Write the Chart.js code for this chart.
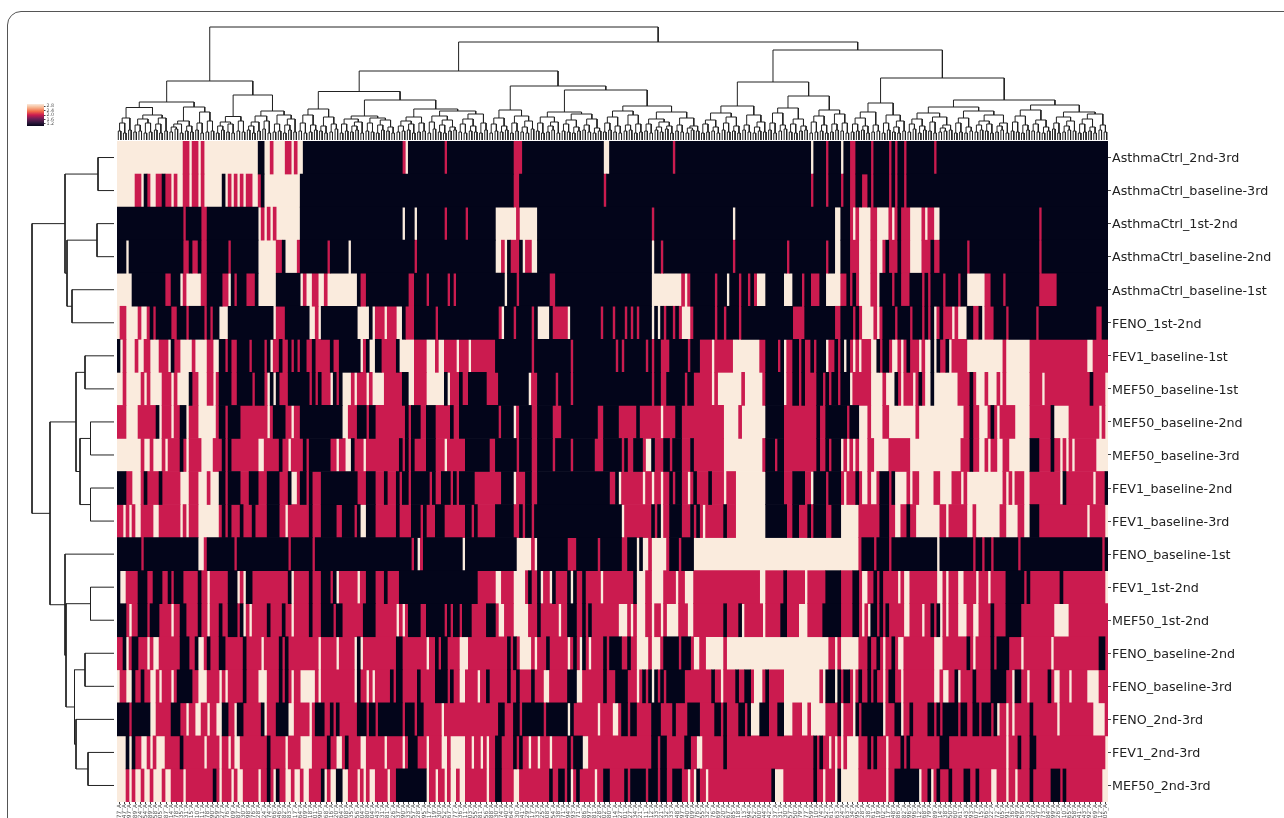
<!DOCTYPE html>
<html>
<head>
<meta charset="utf-8">
<title>Clustermap</title>
<script src="https://cdn.jsdelivr.net/npm/chart.js@4"></script>
<style>
    html, body { margin: 0; width: 1284px; height: 818px; overflow: hidden; background: #fff; }
    .card { position: absolute; left: 7px; top: 11px; width: 1500px; height: 1000px; border: 1px solid #555; border-radius: 14px; box-sizing: border-box; }
    canvas { position: absolute; }
    #heatmap { left: 0; top: 0; }
    #topDendrogram { left: 117px; top: 20px; }
    #leftDendrogram { left: 20px; top: 141px; }
    #colorbar { left: 27px; top: 100px; }
</style>
</head>
<body>
<div class="card"></div>
<canvas id="heatmap" width="1284" height="818"></canvas>
<canvas id="topDendrogram" width="991" height="120"></canvas>
<canvas id="leftDendrogram" width="94" height="661"></canvas>
<canvas id="colorbar" width="40" height="30"></canvas>
<script>
const rowLabels = [
    'AsthmaCtrl_2nd-3rd', 'AsthmaCtrl_baseline-3rd', 'AsthmaCtrl_1st-2nd', 'AsthmaCtrl_baseline-2nd',
    'AsthmaCtrl_baseline-1st', 'FENO_1st-2nd', 'FEV1_baseline-1st', 'MEF50_baseline-1st',
    'MEF50_baseline-2nd', 'MEF50_baseline-3rd', 'FEV1_baseline-2nd', 'FEV1_baseline-3rd',
    'FENO_baseline-1st', 'FEV1_1st-2nd', 'MEF50_1st-2nd', 'FENO_baseline-2nd',
    'FENO_baseline-3rd', 'FENO_2nd-3rd', 'FEV1_2nd-3rd', 'MEF50_2nd-3rd'
];

const columnCount = 330;

// one string per row: level letter + column where that level starts (K=1, R=2, C=3)
const rowRuns = [
    'C0 R22 C24 R25 C27 R28 C29 K47 C49 R51 C52 R56 C58 R59 C60 K62 R95 C96 K97 R109 K110 R132 K135 C162 K164 R185 K186 C231 K232 R236 K237 C241 K242 R244 K246 R251 K252 R257 K258 R259 K260 R262 K263 R272 K273',
    'C0 R6 C8 K9 R10 C11 R13 K15 R16 C18 R19 C20 R22 C24 R25 C27 R28 C29 K35 C36 R37 C38 R39 C40 R41 C42 R43 C45 R47 K48 C49 K61 R132 K134 R162 K163 R231 K232 R236 K237 R241 K242 R244 K246 R248 K250 R251 K252 R257 K258 R259 K260 R262 K263',
    'K0 R22 K23 R28 K30 C47 R48 C49 R50 C51 R52 C53 K61 C95 K96 C99 K100 R109 K110 R116 K117 C126 R133 C134 K140 R178 K179 C205 K206 C239 K241 R244 C245 R246 C247 R251 C253 R257 C258 R259 K260 R261 C264 R268 C269 R270 C272 K274 R307 K308',
    'K0 C3 K4 R22 K24 R25 K27 R28 K30 R37 K38 C47 R53 K55 C56 R60 K61 R70 K71 C77 K78 R99 K100 C126 R128 C129 K130 R131 K134 C135 R136 C138 K140 C178 K179 R181 K182 R205 K206 R223 K224 R236 K237 C239 K241 R244 C247 R251 C253 R255 K256 R257 K260 R261 C264 R268 K271 R272 K274 R283 K284 R307 K308',
    'C0 K5 R16 K18 C21 R22 C23 R28 K30 R35 C37 K38 R39 K40 R43 K46 C47 K53 C61 R62 C63 R65 C67 R69 C70 K80 R81 K83 R97 K99 R103 K104 R110 K111 R112 K113 C129 K130 R133 K134 R144 K146 C178 R188 C189 R190 K191 R199 K200 C203 K204 R207 K208 R210 K211 R212 C213 K216 C222 K225 R228 K229 R231 K234 C236 R241 K243 R244 K245 R246 C247 R251 C253 K254 R258 K259 R261 K264 R268 K269 R270 K271 R275 K276 R280 K281 C283 R289 K291 R295 K296 R307 K313',
    'C0 R1 C3 R7 C8 R10 K11 R12 K13 R18 K20 R23 K24 R29 K30 R31 K32 C34 K37 C52 R53 K56 C64 R66 C67 K68 C80 K84 C85 R86 C89 R90 C93 K95 R96 K99 R106 K107 R127 C128 K129 R132 K133 R138 K139 C140 K144 R145 C150 K151 R161 K162 R165 K166 R169 K170 R171 K172 R173 K174 C178 K179 C180 K181 R182 K183 R185 K186 R187 C188 R191 K192 R199 K200 R202 K203 R207 K208 R225 K229 R239 K241 R245 K246 R247 C248 R252 C253 R254 K255 R259 K260 R264 K265 R268 K269 R270 K271 C272 R273 K274 R275 C278 R279 C280 K283 R285 K287 C288 R289 K292 R296 K297 R306 K307 R326 K328',
    'K0 C1 R2 C3 R6 C7 R9 C11 R14 C17 K18 R19 C21 R25 C26 R30 C32 K34 R36 K37 R38 K40 R44 K45 R49 K50 C51 R52 K54 R55 K57 R58 K59 R60 K61 R63 K65 R66 K71 R72 K74 C81 R82 K83 C84 K86 R88 K93 C94 R99 C103 R106 C107 R109 C113 R114 C117 R118 K126 R138 K139 R151 K152 R166 K167 R168 K169 R176 K177 R178 K179 R181 K184 R190 K191 R194 C198 R199 C205 R214 K216 R220 K221 C222 R223 K225 R227 K228 R229 K231 R232 K233 C236 R237 K239 R240 K241 C242 K243 R244 C245 R246 C247 R248 C251 K253 R254 K255 R257 C258 R260 C261 R262 K263 R264 C267 R268 C269 K271 C272 K273 R274 K276 C277 R278 C283 R295 C296 R304 C323 R325',
    'C0 R2 C3 R8 C9 R10 C11 R15 C18 R19 C20 K24 R25 C27 R30 C32 R33 K34 R38 K40 R45 K46 R49 C50 K51 C52 K53 R54 K57 R64 K65 R66 K67 R68 C71 K72 R73 K74 C75 R78 C79 R80 C83 R84 C85 R89 K95 C97 R99 C103 K109 C110 R111 K114 R115 K117 R123 K127 C137 R138 K140 R146 K147 R151 K152 R178 K179 R181 K183 R189 K190 R192 C198 R199 C200 R208 C209 R215 K216 C222 R223 K225 R227 K228 R229 K233 R235 K236 R237 K238 R240 K241 C244 R245 C251 R255 C256 K259 R260 C261 R262 C265 R266 K267 R268 C269 K271 C272 R280 K284 R285 C286 R289 C290 R293 C294 R295 C296 R304 C308 R309 K324 R325 C329',
    'R0 C3 R7 K13 C14 R15 C18 R19 K21 C23 R24 C27 R33 K34 R36 K37 R41 C50 R51 K52 R56 C58 R59 K61 C75 R77 K80 R83 K84 R86 K96 R97 K98 R101 K103 R106 K111 R112 K114 R127 K128 C132 R133 K134 R138 K140 R145 K148 R160 K162 R167 K173 R174 C181 R182 K186 R188 C202 R207 C208 K216 R222 K233 R234 K236 R243 K244 C247 R250 C251 R255 C257 R266 C267 R282 K284 R285 C287 R290 K291 R292 C293 R294 C299 R304 K311 C312 R317 C327 R328 C329',
    'C0 R8 C9 R11 C12 R15 C16 R17 K21 R22 C23 R24 C28 R32 K35 R36 K37 R38 C47 R49 K54 R55 C57 R58 K62 R63 K64 R71 C73 R74 C76 K78 R79 C82 R83 K94 R95 K96 R97 K98 R99 K103 R106 C109 R110 K116 R124 K126 R133 K134 R138 K140 R145 K146 R151 K152 R159 K162 R168 K169 R170 K172 R175 C176 K178 R179 K182 R184 K185 R188 K191 R192 C202 R215 K216 R219 K220 R222 K233 R234 K236 R237 K238 C241 R242 C243 R244 C245 R246 C247 R250 C252 R257 C264 R281 K284 R285 C287 R289 C290 R291 C293 R295 C297 K304 R307 K311 R312 C314 R315 C316 R317 C318 R319 C326',
    'K0 R3 C5 R8 K9 R10 K14 R15 C21 R24 C27 R30 C31 K34 R36 K37 R41 K44 R47 K50 R54 K57 C58 R60 K61 R63 K64 R65 K68 R80 K83 R86 K89 R90 K93 R94 K95 R97 K98 R104 K105 R106 K108 R111 K112 R113 K114 R119 K128 C132 R133 K136 R138 K140 R164 K166 C167 R168 C175 R176 C178 R179 C181 R182 K184 R185 K186 R188 C190 R191 K192 R193 K197 R198 C202 R203 C206 K216 R222 K225 R229 C231 K232 R236 K237 R241 C242 R243 K246 R247 C248 R250 C251 R253 K254 R257 K258 C259 R263 C264 R265 C267 R272 C274 R278 C281 R282 C283 R295 C296 R297 C298 R299 C302 R304 C314 K315 R316 C325 R326 K329',
    'R0 C2 R3 C4 R5 C6 R8 C12 R14 C21 R22 C23 R24 C27 R34 K35 R36 K37 R38 K41 R42 K45 R46 K50 R54 C56 R57 K64 R65 K68 R73 K75 R79 K80 C81 K83 R86 K93 R94 K98 R101 K102 R103 K106 R109 K116 R118 K119 R120 K126 R132 K134 R135 K136 R138 K139 C168 R169 K178 R179 K180 C181 R182 K184 R188 K191 R192 K193 R194 C195 R196 K202 R203 C206 K216 R223 K225 R227 K230 R231 K232 R236 K238 C241 R247 K254 R257 C259 R261 K263 R264 C266 R274 C276 R277 C283 R285 C286 R294 C296 R300 C302 K304 R307 C323 R324 C329',
    'K0 R8 K9 C27 R29 K30 R39 K40 R57 K58 R65 K66 R98 K99 C100 R101 K102 C115 K116 C133 R138 C139 K140 R150 K153 R160 K161 R168 K170 C173 K174 C175 R177 C178 R183 K184 R187 K188 C192 R247 K248 R252 K253 R257 K258 C273 K274 R285 K286 R288 K289 R291 K292 R300 K301 R328 K329',
    'K0 C1 R3 K7 R10 K12 R15 K17 R18 K19 R22 K27 R28 C30 R31 K37 C40 R41 C42 K43 R45 K57 C58 R59 K64 R65 K68 R71 K72 C73 R74 C80 R81 K83 R86 K89 R90 K94 R120 C126 R128 C132 R136 K137 R138 K140 C141 R142 C144 K145 R146 K150 C151 K152 R153 K155 R156 C161 R162 K172 C173 R176 C178 R182 C186 R187 C189 R192 C214 R216 K222 R223 C229 R230 K236 R241 K245 R247 C248 R250 K252 R253 K254 R255 C260 R261 C262 R264 C273 R275 C276 R277 C280 R282 C286 R287 C290 R291 K296 R302 K303 R304 K314 R315 C329',
    'K0 R3 C4 R5 K7 R10 K11 R14 C18 R19 K21 R23 K27 R28 C30 R31 K34 R35 K37 R40 K41 C42 R43 C44 R45 K50 R51 K55 R56 C58 R59 K64 R65 K68 R72 K73 R75 K82 R86 C93 R94 C95 R96 K97 R101 K103 R109 K110 R111 K112 R114 K115 R118 K123 R126 C127 R129 C132 R137 K140 R141 C147 R148 K150 R153 K155 R156 K157 R158 C167 R170 C171 R172 C173 R176 C178 R179 C181 R182 C183 R187 C190 R192 K202 R203 K207 C208 R209 C215 R216 K221 R223 C227 R230 K235 R241 K245 R247 C248 R249 C250 K251 R253 K254 R255 K256 R257 C262 R264 C268 R269 K271 R272 K273 C274 R275 C276 R277 C280 R283 C285 R287 K291 R292 K296 R301 C312 R317',
    'R0 K2 C3 R4 K5 R7 C10 R11 C12 R14 K21 R24 K26 C27 R29 K30 R31 K34 R36 K42 R43 C48 R49 K54 R55 K56 R57 C67 R68 C73 R74 C79 K80 C81 R82 K93 R95 C103 R104 K106 R107 K108 R110 C114 R117 K130 R131 K132 R133 C134 R138 C139 R140 K143 R144 C150 R151 K152 R153 C154 K155 R156 C157 R158 K162 R163 K164 R168 K170 R171 C173 R177 C178 R181 K182 R187 K188 R191 C192 R194 C196 R202 C203 R237 C239 R240 C241 R247 K250 R251 K253 R254 C255 R256 K258 R259 C260 R262 C272 R275 K283 R284 C285 R286 K291 R292 K293 R297 C301 R302 C311 R312 K327 R329',
    'C0 R1 C3 K5 R6 K8 R9 C11 R13 C14 R15 C18 R19 K20 R25 C27 R30 C34 R35 C36 R37 K42 R43 C47 R50 K54 R55 K56 R57 C58 R59 C61 R66 C67 R68 C79 K80 R81 C83 R84 C85 R86 K91 R92 K93 R95 K100 R101 K106 R110 K111 R112 C114 R116 C120 R121 K123 R124 K130 R131 K133 R134 K138 R139 C142 R144 K150 C153 R155 K162 R163 K166 R170 C173 R174 K175 R176 K177 C178 K179 R180 K181 R182 K183 R189 K198 R199 C201 R202 K206 R207 K209 R211 C212 R215 K216 R217 C222 R234 C235 K236 C239 K240 R241 K242 R244 C245 R246 K247 R248 K250 R251 K252 R253 C255 R256 K257 R259 C261 R262 C272 R274 C275 R277 K279 C280 R281 K285 R286 K291 R296 C298 K299 R301 C303 R304 K310 R311 C312 R314 C317 R318 C323 R327',
    'K0 R4 K5 C11 R13 K18 R21 C23 R24 C26 R28 C30 R31 C33 K35 R37 C39 K40 R42 K48 C49 R50 K53 C57 R59 C64 R65 K66 R69 K71 R72 K73 R74 K80 R83 K84 R86 K87 R95 K96 R99 K100 R102 C108 R109 K127 R129 K132 R134 K135 R142 K143 C150 K151 R152 C160 R161 C165 R167 K168 R170 K171 R173 K178 R181 K185 R186 K190 R194 K199 R201 K202 R203 K207 R209 K210 C211 K214 R217 K220 C222 R225 C228 R230 C231 R236 K240 C241 R242 C245 K246 R247 K248 C255 R256 K259 C261 R262 K264 R265 K270 R272 K273 R274 K275 R280 K281 R283 K285 R287 K288 R291 K292 C293 R294 C296 R297 C298 R299 K304 R305 C313 R314 C325 R329',
    'C0 K3 C4 K5 R6 C8 R10 C11 R12 C13 R16 K21 R22 C29 R30 C34 R35 C37 R38 C39 R41 K50 R51 C56 R57 C61 R65 K70 R71 C73 R75 K76 R77 C81 R83 C89 R90 C95 R96 K97 R100 C103 R104 C108 R110 C111 R116 C118 R119 C121 R122 C123 R124 K126 R128 K132 R133 K134 R135 C137 R138 C140 R141 C144 R145 K150 R151 K152 C155 R157 K178 R180 K181 R183 K189 R191 C193 R195 K202 R203 K232 R233 K234 R235 C237 R238 C239 R240 C241 R242 C243 R247 K250 R251 K252 R253 C256 R257 K261 R262 K263 R264 K274 R277 C296 R297 K300 R301 K304 R306 C329',
    'C0 R3 C4 R5 C6 R8 C9 R11 C12 R15 C16 R18 C22 R23 K32 R33 C34 R35 C38 R39 C40 R42 C47 R48 K50 R51 C52 K53 R54 C56 R58 C59 R61 C62 R64 K68 C69 R70 C71 K73 C75 R77 C80 R81 C82 R83 C84 R86 C90 R91 K93 C103 R104 C106 R107 C109 R110 C111 R113 C114 R116 C123 R124 K126 R128 C132 R134 K144 R145 K147 R149 K150 C151 R152 K153 R154 C159 R160 K162 R164 K169 R170 K171 R176 K177 R180 K181 R183 K185 R188 C190 R191 C192 K193 R194 C196 R197 K218 C219 R222 K232 R233 C235 R236 C239 K240 C241 R247 C256 R257 K259 C267 R268 K270 C271 R272 K273 R274 K277 R278 K282 R284 K286 R287 C291 R293 C296 R297 C299 R300 K304 R305 K311 R314 K315 R316 C328'
];

const levelColors = { K: '#03051A', R: '#CB1B4F', C: '#FAEBDD' };

// bottom axis sample ids, as far as they can be read
const columnIds = [
    177, 147, 97, 89, 324, 54, 289, 358, 305, 287, 14, 78, 35, 31, 115, 110, 311, 178, 90, 59, 27, 76, 409, 187, 30, 198, 176, 328, 324, 174, 66, 346, 82, 83, 17, 64, 209, 418, 301, 290, 268, 16, 220, 264, 408, 35, 56,
    204, 180, 104, 343, 131, 281, 226, 37, 190, 433, 57, 28, 195, 117, 319, 130, 252, 167, 77, 36, 311, 203, 55, 181, 156, 288, 30, 174, 140, 364, 130, 341, 129, 417, 33, 25, 108, 254, 338, 71, 394, 93, 71, 86, 97, 81, 128,
    102, 280, 14, 27, 301, 127, 34, 21, 11, 12, 133, 121, 132, 33, 48, 97, 140, 109, 76, 55, 332, 76, 169, 120, 67, 185, 218, 113, 94, 52, 100, 44, 42, 37, 31, 130, 57, 150, 79, 77, 59, 10, 74, 52, 61, 163, 224, 63, 34, 195,
    128, 38, 61, 19, 102, 117, 48, 86, 82, 96, 196, 112, 368, 79, 189, 14, 38, 50, 160, 261, 143, 93, 407, 215, 166, 22, 72, 305, 91, 236, 149, 58, 333, 120, 47, 273, 84, 199, 26, 310, 65, 158, 241, 43, 392, 69, 12, 205
];
const columnLabels = columnIds.map(id => id + '_A');

// dendrograms: [merge height, left, right], [height] is a merge of two groups, 0 is one group
const topTree = [113,
    [59,
        [38,
            [32.5, [22, [17], 0], [25, [21, [15], [17]], [22, [16], 0]]],
            [33, [19, [16, [13], 0], [14]], [28, [17], [19]]]],
        [45,
            [23.5, [18, [14], [16]], [19]],
            [29, [24, [18, [14], 0], [19]], [25, [16], [21, [15], 0]]]]],
    [98,
        [69,
            [48.5,
                [31, [25, [17], [15]], [23, [14], [16]]],
                [40,
                    [24, [21, [16], [18, [14], 0]], [22, [17], [20, [15], [13]]]],
                    [31,
                        [23, [19, [14], [16]], [17]],
                        [29, [24, [18], [20, [15], [13]]], [26, [21, [16], [14]], [17]]]]]],
            [54,
                [30, [22, [16], [14]], [24, [17], [19, [13], 0]]],
                [50,
                    [28, [23, [17], [18, [14], 0]], [26, [20, [16], [13]], [21, [15], [12]]]],
                    [34, [29, [23, [17], [14]], [25, [15], [16]]], [28, [21, [16], [18, [13], [14]]], [22, [15], [14, [12], 0]]]]]]],
        [90,
            [58,
                [34, [27, [20, [16], [13]], [23, [17], [14]]], [25, [15], [18, [13], 0]]],
                [44, [32, [27, [17], [15]], [21, [16], [14]]], [30, [24, [18], [15]], [26, [16], [17]]]]],
            [62,
                [37, [28, [22, [16], [14]], [15]], [25, [17], [19, [13], 0]]],
                [40,
                    [33, [27, [21, [16], [14]], [23, [18], [15, [12], 0]]], [29, [22, [17], [13]], [25, [19, [15], [16]], [17, [14], 0]]]],
                    [35, [30, [24, [18], [15]], [20, [16], [13]]], [28, [23, [17], [19, [14], 0]], [26, [21, [16], [13]], [15]]]]]]]]
];

// height of the lowest two-sample merge under each group of topTree
const topLeafMerges = [
    9, 7, 10, 8, 9, 7, 8, 10, 7, 9, 8, 11, 7, 9, 8, 10, 7, 8, 9, 7, 10, 8, 7, 9,
    8, 10, 7, 9, 11, 7, 8, 9, 7, 10, 8, 9, 7, 8, 10, 9, 7, 8, 11, 7, 9, 8, 10, 7,
    9, 8, 7, 10, 9, 7, 8, 9, 10, 7, 8, 9, 7, 11, 8, 7, 9, 10, 8, 7, 9, 8, 7, 10,
    7, 9, 8, 10, 7, 9, 8, 7, 11, 9, 7, 8, 10, 7, 9, 8, 7, 9, 10, 8, 7, 9, 8, 10,
    8, 7, 9, 10, 7, 8, 9, 7, 10, 8, 11, 7, 9, 8, 7, 10, 9, 7, 8, 9, 7, 10, 8, 9,
    7, 10, 8, 7, 9, 8, 10, 7, 9, 11, 8, 7, 9, 10, 7, 8, 9, 7, 8, 10, 9, 7, 8, 9,
    10, 7, 8, 9, 7, 10, 8, 7, 9, 8, 11, 7, 10, 9, 7, 8, 9, 10, 7, 8, 7, 9, 8, 10,
    9, 7, 8, 10, 7, 9, 8, 7, 10, 9, 8, 7, 9, 11, 7, 8, 10, 9, 7, 8, 9, 7, 10, 8
];

const leftTree = [82,
    [49, [16], [47, [17], [42]]],
    [64,
        [38, [29], [34, [23.5], [23.5]]],
        [49, 0, [48, [23.5], [39.5, [29], [38, 0, [26]]]]]]
];

const colorbarTicks = [1.2, 1.6, 2.0, 2.4, 2.8];
const rocketStops = ['#03051A', '#35193E', '#701F57', '#CB1B4F', '#F26C4A', '#F6B48F', '#FAEBDD'];

function buildHeatmapDatasets() {
    const bars = { K: [], R: [], C: [] };
    rowRuns.forEach((runs, row) => {
        const tokens = runs.split(' ');
        tokens.forEach((token, i) => {
            const start = parseInt(token.slice(1));
            const end = i + 1 < tokens.length ? parseInt(tokens[i + 1].slice(1)) : columnCount;
            bars[token[0]].push({ x: [start, end], y: rowLabels[row] });
        });
    });
    return Object.keys(bars).map(level => ({
        data: bars[level],
        backgroundColor: levelColors[level],
        xAxisID: 'x',
        yAxisID: 'y',
        grouped: false,
        barPercentage: 1,
        categoryPercentage: 1,
        borderWidth: 0
    }));
}

// walks a tree and returns the U shaped links as a point list with gaps
function treeToPoints(tree, leafMerges) {
    const links = [];
    let nextLeaf = 0;
    let nextMerge = 0;
    function addLink(left, right, height) {
        links.push([left.pos, left.height], [left.pos, height], [right.pos, height], [right.pos, right.height], [NaN, NaN]);
        return { pos: (left.pos + right.pos) / 2, height: height };
    }
    function sample() {
        nextLeaf += 1;
        return { pos: nextLeaf - 0.5, height: 0 };
    }
    function walk(node) {
        if (node === 0) {
            if (!leafMerges) {
                return sample();
            }
            const left = sample();
            const right = sample();
            nextMerge += 1;
            return addLink(left, right, leafMerges[nextMerge - 1]);
        }
        const left = node.length === 1 ? walk(0) : walk(node[1]);
        const right = node.length === 1 ? walk(0) : walk(node[2]);
        return addLink(left, right, node[0]);
    }
    walk(tree);
    return { links: links, leaves: nextLeaf };
}

function drawHeatmap() {
    new Chart(document.getElementById('heatmap'), {
        type: 'bar',
        data: { datasets: buildHeatmapDatasets() },
        options: {
            indexAxis: 'y',
            responsive: false,
            animation: false,
            events: [],
            layout: { padding: { left: 117, top: 141, right: 0, bottom: 0 } },
            plugins: { legend: { display: false }, tooltip: { enabled: false } },
            scales: {
                x: { type: 'linear', min: 0, max: columnCount, display: false },
                columns: {
                    type: 'category',
                    axis: 'x',
                    position: 'bottom',
                    labels: columnLabels,
                    offset: true,
                    afterFit: scale => { scale.height = 16; },
                    border: { display: false },
                    grid: { offset: false, drawOnChartArea: false, tickLength: 2, color: '#444' },
                    ticks: {
                        autoSkip: false, minRotation: 90, maxRotation: 90, padding: 0,
                        font: { family: 'DejaVu Sans', size: 5.8 }, color: '#555'
                    }
                },
                y: {
                    type: 'category',
                    position: 'right',
                    labels: rowLabels,
                    offset: true,
                    afterFit: scale => { scale.width = 176; },
                    border: { display: false },
                    grid: { offset: false, drawOnChartArea: false, tickLength: 3, color: '#444' },
                    ticks: {
                        autoSkip: false, padding: 1, labelOffset: 1.5,
                        font: { family: 'DejaVu Sans', size: 12.7 }, color: '#222'
                    }
                }
            }
        }
    });
}

function drawDendrogram(canvasId, tree, leafMerges, vertical) {
    const result = treeToPoints(tree, leafMerges);
    const points = result.links.map(p => vertical ? { x: p[1], y: p[0] } : { x: p[0], y: p[1] });
    const canvas = document.getElementById(canvasId);
    const leafScale = { type: 'linear', min: 0, max: result.leaves, display: false, reverse: vertical };
    const heightScale = vertical
        ? { type: 'linear', min: 0, max: canvas.width, reverse: true, display: false }
        : { type: 'linear', min: 0, max: canvas.height, display: false };
    new Chart(canvas, {
        type: 'scatter',
        data: {
            datasets: [{
                data: points,
                showLine: true,
                spanGaps: false,
                borderColor: '#222',
                borderWidth: 1,
                pointRadius: 0,
                clip: false
            }]
        },
        options: {
            responsive: false,
            animation: false,
            events: [],
            plugins: { legend: { display: false }, tooltip: { enabled: false } },
            scales: vertical ? { x: heightScale, y: leafScale } : { x: leafScale, y: heightScale }
        }
    });
}

function drawColorbar() {
    new Chart(document.getElementById('colorbar'), {
        type: 'bar',
        data: {
            labels: ['level'],
            datasets: [{
                data: [[1, 3]],
                barPercentage: 1,
                categoryPercentage: 1,
                borderWidth: 0,
                backgroundColor: function(context) {
                    const area = context.chart.chartArea;
                    if (!area) {
                        return rocketStops[3];
                    }
                    const gradient = context.chart.ctx.createLinearGradient(0, area.bottom, 0, area.top);
                    rocketStops.forEach((color, i) => gradient.addColorStop(i / (rocketStops.length - 1), color));
                    return gradient;
                }
            }]
        },
        options: {
            responsive: false,
            animation: false,
            events: [],
            plugins: { legend: { display: false }, tooltip: { enabled: false } },
            scales: {
                x: { display: false },
                y: {
                    position: 'right',
                    min: 1,
                    max: 3,
                    afterFit: scale => { scale.width = 23; },
                    afterBuildTicks: scale => { scale.ticks = colorbarTicks.map(v => ({ value: v })); },
                    border: { display: false },
                    grid: { drawOnChartArea: false, tickLength: 1.5, color: '#444' },
                    ticks: {
                        autoSkip: false,
                        padding: 1,
                        font: { family: 'DejaVu Sans', size: 4.8 },
                        color: '#555',
                        callback: value => value.toFixed(1)
                    }
                }
            }
        }
    });
}

drawHeatmap();
drawDendrogram('topDendrogram', topTree, topLeafMerges, false);
drawDendrogram('leftDendrogram', leftTree, null, true);
drawColorbar();
</script>
</body>
</html>
